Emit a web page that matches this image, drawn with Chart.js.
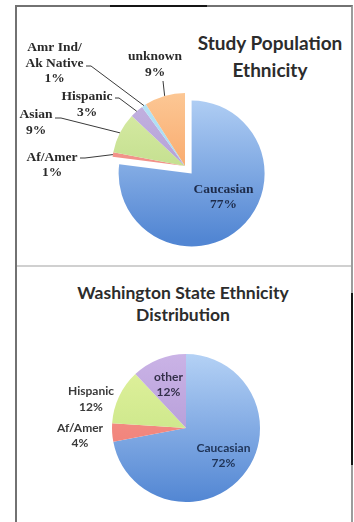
<!DOCTYPE html>
<html>
<head>
<meta charset="utf-8">
<script src="https://cdn.jsdelivr.net/npm/chart.js@4.4.1/dist/chart.umd.min.js"></script>
<style>
  html, body { margin: 0; padding: 0; background: #fff; }
  body { width: 354px; height: 522px; position: relative; overflow: hidden; }
  .frame { position: absolute; left: 15px; top: 5px; width: 334px; height: 560px;
           border: 2px solid #727272; border-right-color: #9c9c9c; border-bottom: none; }
  .dark { position: absolute; background: #151515; }
  .rule { position: absolute; left: 17px; top: 265px; width: 334px; height: 2px; background: #d0d0d0; }
  .title { position: absolute; font-family: Lato, "Open Sans", sans-serif; font-weight: 700;
           color: #2c2c2c; text-align: center; white-space: nowrap; transform: translateX(-50%); }
  canvas { position: absolute; left: 0; }
</style>
</head>
<body>
<div class="frame"></div>
<div class="dark" style="left:110px;top:5px;width:97px;height:2px"></div>
<div class="dark" style="left:351px;top:293px;width:2px;height:172px"></div>
<div class="rule"></div>

<div class="title" style="left:270px;top:29px;font-size:19px;line-height:27px">Study Population<br>Ethnicity</div>
<div class="title" style="left:183px;top:282px;font-size:17.5px;line-height:22px">Washington State Ethnicity<br>Distribution</div>

<canvas id="study" width="354" height="265" style="top:0"></canvas>
<canvas id="state" width="354" height="255" style="top:267px"></canvas>

<script>
// study population breakdown (percent)
const studyLabels = ['Caucasian', 'Af/Amer', 'Asian', 'Hispanic', 'Amr Ind/\nAk Native', 'unknown'];
const studyValues = [77, 1, 9, 3, 1, 9];

// Washington State breakdown (percent)
const stateLabels = ['Caucasian', 'Af/Amer', 'Hispanic', 'other'];
const stateValues = [72, 4, 12, 12];

// slice fills, light at the top of the pie fading to the darker shade
const studyColors = [
  ['#b4d1f5', '#5286d3'], ['#f6a39a', '#ec7d74'], ['#dbeda8', '#afd379'],
  ['#c4b3e1', '#a690ce'], ['#b8e4f6', '#90cfee'], ['#fcc794', '#f6914b']
];
const stateColors = [
  ['#b4d1f5', '#5286d3'], ['#f69a92', '#ee766d'], ['#e2f29e', '#bcdf7c'], ['#cab3e6', '#a88ecf']
];

// label text placement relative to each slice's centre, plus leader start
const studyLabelPos = [
  { at: [32, 23.5], color: '#1d2b4a' },
  { at: [-133, -1], lead: [-105, -8], elbow: 5 },
  { at: [-149, -43.5], lead: [-130, -48], elbow: 6 },
  { at: [-98, -61.5], lead: [-70, -68], elbow: 4 },
  { at: [-130.5, -102.5], lead: [-99, -100], elbow: 5 },
  { at: [-30, -101.5], lead: [-22, -85], elbow: 0 }
];
const stateLabelPos = [
  { at: [37.5, 27.5], color: '#1f3458' },
  { at: [-106, 7.5] },
  { at: [-95, -29] },
  { at: [-17.5, -43.5], color: '#34304a' }
];

function gradientFill(pairs, radius) {
  return function (ctx) {
    const area = ctx.chart.chartArea;
    if (!area) return pairs[ctx.dataIndex][0];
    const cy = (area.top + area.bottom) / 2;
    const g = ctx.chart.ctx.createLinearGradient(0, cy - radius, 0, cy + radius);
    g.addColorStop(0, pairs[ctx.dataIndex][0]);
    g.addColorStop(1, pairs[ctx.dataIndex][1]);
    return g;
  };
}

// pulls chosen slices out along their middle angle without growing them
const explodePlugin = {
  id: 'explode',
  afterDatasetUpdate(chart, args, opts) {
    const dist = opts.distance || [];
    args.meta.data.forEach((arc, i) => {
      const d = dist[i] || 0;
      if (!d) return;
      const mid = (arc.startAngle + arc.endAngle) / 2;
      arc.x += Math.cos(mid) * d;
      arc.y += Math.sin(mid) * d;
    });
  }
};

// category + percent labels with optional leader lines to the slice edge
const sliceLabelPlugin = {
  id: 'sliceLabels',
  afterDatasetsDraw(chart, args, opts) {
    const ctx = chart.ctx;
    const meta = chart.getDatasetMeta(0);
    const labels = chart.data.labels;
    const values = chart.data.datasets[0].data;
    ctx.save();
    ctx.font = opts.font;
    ctx.textAlign = 'center';
    ctx.textBaseline = 'middle';
    meta.data.forEach((arc, i) => {
      const pos = opts.positions[i];
      if (!pos) return;
      const lines = labels[i].split('\n').concat(values[i] + '%');
      const cx = arc.x + pos.at[0];
      const cy = arc.y + pos.at[1];
      ctx.fillStyle = pos.color || opts.color;
      lines.forEach((t, k) => {
        ctx.fillText(t, cx, cy + (k - (lines.length - 1) / 2) * opts.lineHeight);
      });
      if (pos.lead) {
        const mid = (arc.startAngle + arc.endAngle) / 2;
        const ex = arc.x + Math.cos(mid) * arc.outerRadius;
        const ey = arc.y + Math.sin(mid) * arc.outerRadius;
        const sx = arc.x + pos.lead[0];
        const sy = arc.y + pos.lead[1];
        ctx.strokeStyle = opts.lineColor;
        ctx.lineWidth = 1;
        ctx.beginPath();
        ctx.moveTo(sx, sy);
        ctx.lineTo(sx + (pos.elbow || 0), sy);
        ctx.lineTo(ex, ey);
        ctx.stroke();
      }
    });
    ctx.restore();
  }
};

function pieConfig(labels, values, colors, radius, padding, labelOpts, explode) {
  return {
    type: 'pie',
    data: {
      labels: labels,
      datasets: [{
        data: values,
        backgroundColor: gradientFill(colors, radius),
        borderWidth: 0,
        radius: radius
      }]
    },
    options: {
      responsive: false,
      animation: false,
      layout: { padding: padding },
      plugins: {
        legend: { display: false },
        tooltip: { enabled: false },
        explode: { distance: explode },
        sliceLabels: labelOpts
      }
    },
    plugins: [explodePlugin, sliceLabelPlugin]
  };
}

new Chart(document.getElementById('study'), pieConfig(
  studyLabels, studyValues, studyColors, 73,
  { left: 100, right: 84, top: 90, bottom: 23 },
  {
    positions: studyLabelPos,
    font: 'bold 13.5px "Liberation Serif", "Times New Roman", serif',
    color: '#2a2a2a', lineColor: '#3a3a3a', lineHeight: 15.5
  },
  [10, 0, 0, 0, 0, 0]
));

new Chart(document.getElementById('state'), pieConfig(
  stateLabels, stateValues, stateColors, 74,
  { left: 100, right: 82, top: 90, bottom: 23 },
  {
    positions: stateLabelPos,
    font: 'bold 12px Lato, "Open Sans", sans-serif',
    color: '#3a3a3a', lineColor: '#3a3a3a', lineHeight: 15.5
  },
  []
));
</script>
</body>
</html>
